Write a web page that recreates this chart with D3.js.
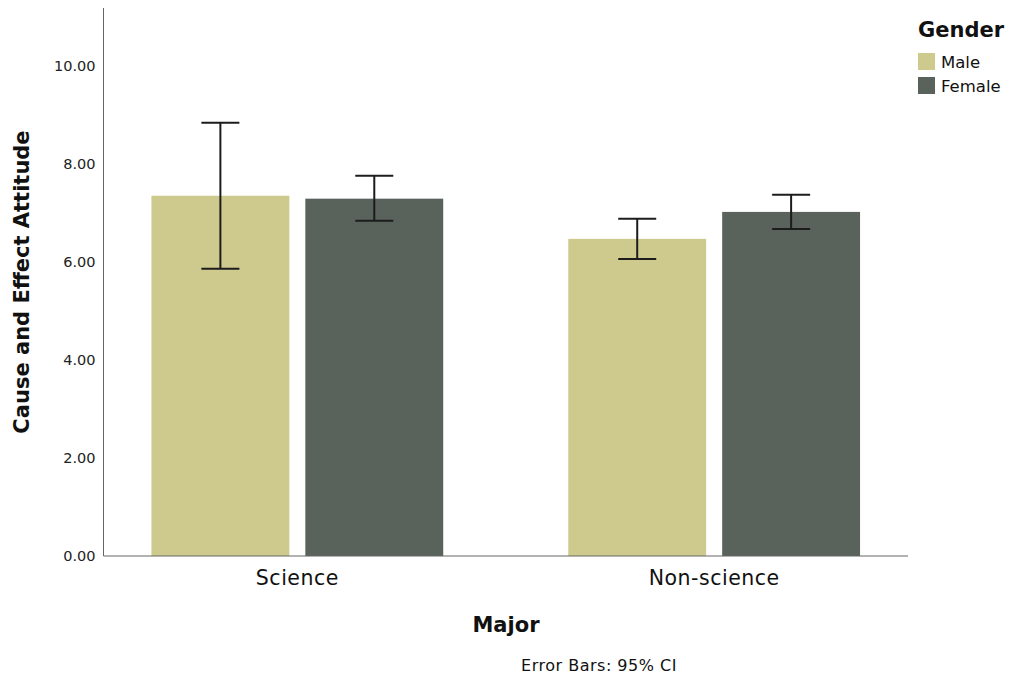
<!DOCTYPE html>
<html>
<head>
<meta charset="utf-8">
<script src="https://cdn.jsdelivr.net/npm/d3@7"></script>
<style>
  body { margin: 0; background: #fff; }
  svg { display: block; }
  text { font-family: "DejaVu Sans", sans-serif; }
</style>
</head>
<body>
<svg id="chart" width="1013" height="688"></svg>
<script>
const majors = ["Science", "Non-science"];
const genders = ["Male", "Female"];
const meanMale = [7.35, 6.47];
const meanFemale = [7.29, 7.02];
const ciLowMale = [5.86, 6.06];
const ciHighMale = [8.84, 6.88];
const ciLowFemale = [6.84, 6.67];
const ciHighFemale = [7.76, 7.37];
const yTicks = [0, 2, 4, 6, 8, 10];
const colors = ["#cec98d", "#5a625c"];

const rows = [];
majors.forEach((m, i) => {
  rows.push({ major: m, gender: "Male", mean: meanMale[i], lo: ciLowMale[i], hi: ciHighMale[i] });
  rows.push({ major: m, gender: "Female", mean: meanFemale[i], lo: ciLowFemale[i], hi: ciHighFemale[i] });
});

const svg = d3.select("#chart");
const mLeft = 103.5, mRight = 908, mTop = 8, mBottom = 556;

const y = d3.scaleLinear().domain([0, 11.18]).range([mBottom, mTop]);
const x0 = d3.scaleBand().domain(majors).range([mLeft, mRight]).paddingInner(0.3).paddingOuter(0.115);
const x1 = d3.scaleBand().domain(genders).range([0, x0.bandwidth()]).paddingInner(0.104).paddingOuter(0);
const color = d3.scaleOrdinal().domain(genders).range(colors);

// bars
svg.append("g").selectAll("rect").data(rows).join("rect")
  .attr("x", d => x0(d.major) + x1(d.gender))
  .attr("y", d => y(d.mean))
  .attr("width", x1.bandwidth())
  .attr("height", d => y(0) - y(d.mean))
  .attr("fill", d => color(d.gender));

// error bars
const capW = 38;
const eb = svg.append("g").attr("stroke", "#1c1c1c").attr("stroke-width", 2).attr("fill", "none");
rows.forEach(d => {
  const cx = x0(d.major) + x1(d.gender) + x1.bandwidth() / 2;
  eb.append("line").attr("x1", cx).attr("x2", cx).attr("y1", y(d.lo)).attr("y2", y(d.hi));
  eb.append("line").attr("x1", cx - capW / 2).attr("x2", cx + capW / 2).attr("y1", y(d.lo)).attr("y2", y(d.lo));
  eb.append("line").attr("x1", cx - capW / 2).attr("x2", cx + capW / 2).attr("y1", y(d.hi)).attr("y2", y(d.hi));
});

// y axis
const yAxis = svg.append("g").attr("transform", `translate(${mLeft},0)`)
  .call(d3.axisLeft(y).tickValues(yTicks).tickFormat(d3.format(".2f")).tickSize(0).tickPadding(8));
yAxis.select(".domain").attr("stroke", "#666").attr("d", `M0,${mTop}V${mBottom}`);
yAxis.selectAll("text").attr("font-size", 14.5).attr("fill", "#222").attr("font-family", "DejaVu Sans, sans-serif");

// x axis
const xAxis = svg.append("g").attr("transform", `translate(0,${mBottom})`)
  .call(d3.axisBottom(x0).tickSize(0).tickPadding(14));
xAxis.select(".domain").attr("stroke", "#666").attr("d", `M${mLeft},0H${mRight}`);
xAxis.selectAll("text").attr("font-size", 20.5).attr("letter-spacing", 0.5).attr("fill", "#111").attr("font-family", "DejaVu Sans, sans-serif");

// axis titles
svg.append("text")
  .attr("transform", `translate(29,282) rotate(-90)`)
  .attr("text-anchor", "middle")
  .attr("font-size", 21).attr("font-weight", "bold").attr("fill", "#111")
  .text("Cause and Effect Attitude");

svg.append("text")
  .attr("x", 506).attr("y", 632)
  .attr("text-anchor", "middle")
  .attr("font-size", 21).attr("font-weight", "bold").attr("fill", "#111")
  .text("Major");

svg.append("text")
  .attr("x", 599).attr("y", 671)
  .attr("text-anchor", "middle")
  .attr("font-size", 16).attr("letter-spacing", 0.5).attr("fill", "#111")
  .text("Error Bars: 95% CI");

// legend
const lg = svg.append("g");
lg.append("text").attr("x", 918).attr("y", 37)
  .attr("font-size", 21).attr("font-weight", "bold").attr("fill", "#111").text("Gender");
genders.forEach((g, i) => {
  lg.append("rect").attr("x", 918).attr("y", 53 + i * 24).attr("width", 17).attr("height", 17).attr("fill", color(g));
  lg.append("text").attr("x", 941).attr("y", 68 + i * 24)
    .attr("font-size", 16.5).attr("fill", "#111").text(g);
});
</script>
</body>
</html>
